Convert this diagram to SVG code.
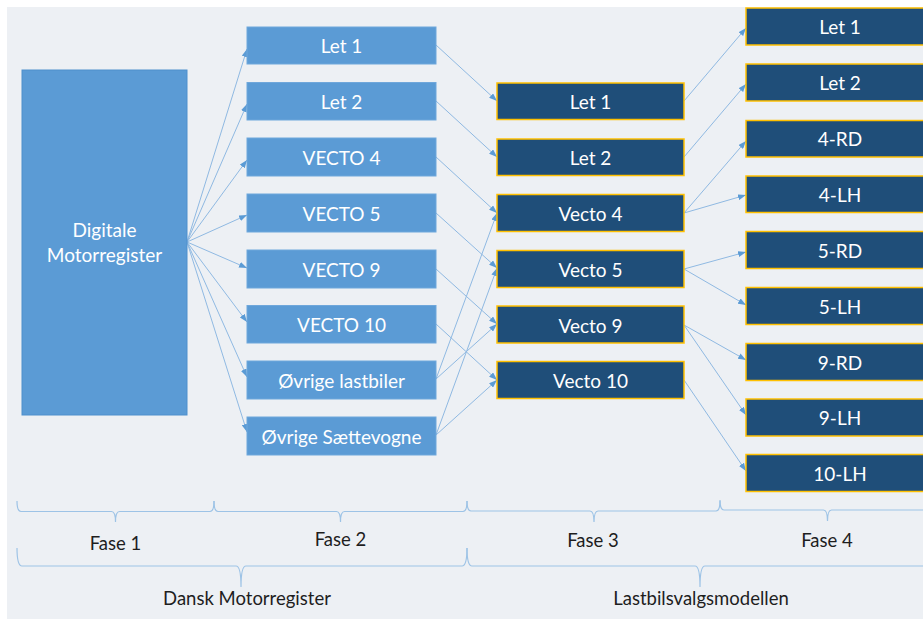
<svg xmlns="http://www.w3.org/2000/svg" width="923" height="619" viewBox="0 0 923 619">
<style>
text{font-family:Lato,"Open Sans","Liberation Sans",sans-serif;text-anchor:middle}
.w{fill:#ffffff;font-size:19px}
.d{fill:#1e1e1e;font-size:18.5px}
.c2{fill:#5b9bd5;stroke:#6fa7db;stroke-width:1}
.c3{fill:#1f4e79;stroke:#ffc000;stroke-width:1.5}
.ln{stroke:#8fb9e2;stroke-width:1;fill:none;marker-end:url(#ah)}
.br{stroke:#9dc3e6;stroke-width:1.2;fill:none}
</style>
<defs>
<marker id="ah" markerUnits="userSpaceOnUse" markerWidth="8" markerHeight="6" refX="8" refY="3" orient="auto">
<path d="M0,0 L8,3 L0,6 z" fill="#5b9bd5"/>
</marker>
</defs>
<rect x="7" y="7" width="916" height="612" fill="#edf0f4"/>

<g id="connectors">
<line class="ln" x1="187" y1="242" x2="247" y2="49"/>
<line class="ln" x1="187" y1="242" x2="247" y2="104"/>
<line class="ln" x1="187" y1="242" x2="247" y2="160"/>
<line class="ln" x1="187" y1="242" x2="247" y2="215"/>
<line class="ln" x1="187" y1="242" x2="247" y2="268"/>
<line class="ln" x1="187" y1="242" x2="247" y2="322"/>
<line class="ln" x1="187" y1="242" x2="247" y2="377"/>
<line class="ln" x1="187" y1="242" x2="247" y2="432"/>

<line class="ln" x1="436" y1="45" x2="497" y2="101"/>
<line class="ln" x1="436" y1="101" x2="497" y2="157"/>
<line class="ln" x1="436" y1="157" x2="497" y2="213"/>
<line class="ln" x1="436" y1="213" x2="497" y2="268"/>
<line class="ln" x1="436" y1="269" x2="497" y2="324"/>
<line class="ln" x1="436" y1="324" x2="497" y2="380"/>
<line class="ln" x1="436" y1="379" x2="497" y2="213"/>
<line class="ln" x1="436" y1="379" x2="497" y2="324"/>
<line class="ln" x1="436" y1="435" x2="497" y2="268"/>
<line class="ln" x1="436" y1="435" x2="497" y2="380"/>

<line class="ln" x1="684" y1="101" x2="746" y2="28"/>
<line class="ln" x1="684" y1="157" x2="746" y2="84"/>
<line class="ln" x1="684" y1="213" x2="746" y2="141"/>
<line class="ln" x1="684" y1="213" x2="746" y2="195"/>
<line class="ln" x1="684" y1="269" x2="746" y2="252"/>
<line class="ln" x1="684" y1="269" x2="746" y2="305"/>
<line class="ln" x1="684" y1="325" x2="746" y2="360"/>
<line class="ln" x1="684" y1="325" x2="746" y2="415"/>
<line class="ln" x1="684" y1="380" x2="746" y2="471"/>
</g>

<g id="n-digitale">
<rect x="22" y="70" width="165" height="345" fill="#5b9bd5" stroke="#4f8fcc" stroke-width="1"/>
<text class="w" x="104.5" y="237">Digitale</text>
<text class="w" x="104.5" y="261.5">Motorregister</text>
</g>

<g id="n2-let1"><rect class="c2" x="247" y="27" width="189" height="37"/><text class="w" x="341.5" y="53">Let 1</text></g>
<g id="n2-let2"><rect class="c2" x="247" y="82.5" width="189" height="37.5"/><text class="w" x="341.5" y="109">Let 2</text></g>
<g id="n2-v4"><rect class="c2" x="247" y="138" width="189" height="38"/><text class="w" x="341.5" y="165">VECTO 4</text></g>
<g id="n2-v5"><rect class="c2" x="247" y="194" width="189" height="38"/><text class="w" x="341.5" y="221">VECTO 5</text></g>
<g id="n2-v9"><rect class="c2" x="247" y="250" width="189" height="38"/><text class="w" x="341.5" y="277">VECTO 9</text></g>
<g id="n2-v10"><rect class="c2" x="247" y="305.5" width="189" height="37.5"/><text class="w" x="341.5" y="332">VECTO 10</text></g>
<g id="n2-ovl"><rect class="c2" x="247" y="361" width="189" height="38"/><text class="w" x="341.5" y="388">Øvrige lastbiler</text></g>
<g id="n2-ovs"><rect class="c2" x="247" y="417" width="189" height="38"/><text class="w" x="341.5" y="444">Øvrige Sættevogne</text></g>

<g id="n3-let1"><rect class="c3" x="497" y="83" width="187" height="36.5"/><text class="w" x="590.5" y="109">Let 1</text></g>
<g id="n3-let2"><rect class="c3" x="497" y="139" width="187" height="36.5"/><text class="w" x="590.5" y="165">Let 2</text></g>
<g id="n3-v4"><rect class="c3" x="497" y="194.5" width="187" height="37"/><text class="w" x="590.5" y="221">Vecto 4</text></g>
<g id="n3-v5"><rect class="c3" x="497" y="250.5" width="187" height="37"/><text class="w" x="590.5" y="277">Vecto 5</text></g>
<g id="n3-v9"><rect class="c3" x="497" y="306" width="187" height="37"/><text class="w" x="590.5" y="332.5">Vecto 9</text></g>
<g id="n3-v10"><rect class="c3" x="497" y="361.5" width="187" height="37"/><text class="w" x="590.5" y="388">Vecto 10</text></g>

<g id="n4-let1"><rect class="c3" x="746" y="8" width="188" height="37"/><text class="w" x="840" y="34">Let 1</text></g>
<g id="n4-let2"><rect class="c3" x="746" y="64" width="188" height="37"/><text class="w" x="840" y="90">Let 2</text></g>
<g id="n4-4rd"><rect class="c3" x="746" y="120.5" width="188" height="36.5"/><text class="w" x="840" y="146">4-RD</text></g>
<g id="n4-4lh"><rect class="c3" x="746" y="176" width="188" height="36.5"/><text class="w" x="840" y="202">4-LH</text></g>
<g id="n4-5rd"><rect class="c3" x="746" y="231.5" width="188" height="37"/><text class="w" x="840" y="258">5-RD</text></g>
<g id="n4-5lh"><rect class="c3" x="746" y="287.5" width="188" height="37"/><text class="w" x="840" y="313.5">5-LH</text></g>
<g id="n4-9rd"><rect class="c3" x="746" y="343.5" width="188" height="37"/><text class="w" x="840" y="369.5">9-RD</text></g>
<g id="n4-9lh"><rect class="c3" x="746" y="399" width="188" height="37"/><text class="w" x="840" y="425">9-LH</text></g>
<g id="n4-10lh"><rect class="c3" x="746" y="454.5" width="188" height="37"/><text class="w" x="840" y="481">10-LH</text></g>

<g id="braces">
<path class="br" d="M17,501 Q17,511.5 21,511.5 H111.5 Q115.5,511.5 115.5,522 Q115.5,511.5 119.5,511.5 H210 Q214,511.5 214,501"/>
<path class="br" d="M214,501 Q214,511.5 218,511.5 H336.5 Q340.5,511.5 340.5,522 Q340.5,511.5 344.5,511.5 H463 Q467,511.5 467,501"/>
<path class="br" d="M467,501 Q467,511 471,511 H590 Q594,511 594,522 Q594,511 598,511 H716 Q720,511 720,501"/>
<path class="br" d="M720,500 Q720,510 724,510 H823.5 Q827.5,510 827.5,521 Q827.5,510 831.5,510 H931 Q935,510 935,500"/>
<path class="br" d="M17,548 Q17,566 22,566 H236 Q241,566 241,587 Q241,566 246,566 H462 Q467,566 467,548"/>
<path class="br" d="M467,548 Q467,566 472,566 H695 Q700,566 700,587 Q700,566 705,566 H928 Q933,566 933,548"/>
</g>

<g id="labels">
<text class="d" x="115.5" y="550">Fase 1</text>
<text class="d" x="340.5" y="546">Fase 2</text>
<text class="d" x="593" y="547">Fase 3</text>
<text class="d" x="827" y="547">Fase 4</text>
<text class="d" x="247" y="605">Dansk Motorregister</text>
<text class="d" x="701" y="605">Lastbilsvalgsmodellen</text>
</g>
</svg>
